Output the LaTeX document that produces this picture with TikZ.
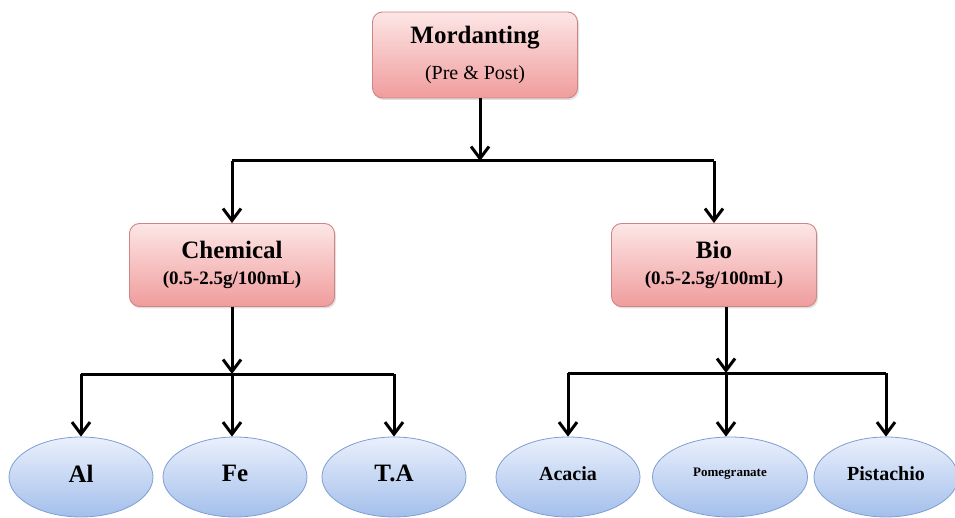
\documentclass[tikz,border=0pt]{standalone}
\usepackage{fontspec}
\setmainfont{Liberation Serif}
\usetikzlibrary{arrows.meta,shapes.geometric,shadows}
\definecolor{boxtop}{HTML}{FDE6E6}
\definecolor{boxbot}{HTML}{F09C9C}
\definecolor{boxline}{HTML}{CF8585}
\definecolor{elltop}{HTML}{EAF0FC}
\definecolor{ellbot}{HTML}{A3BFEB}
\definecolor{ellline}{HTML}{7E9ED3}
\tikzset{
  pinkbox/.style={rectangle, rounded corners=10pt, draw=boxline, line width=0.9pt,
    top color=boxtop, bottom color=boxbot, minimum width=205pt, minimum height=86pt,
    align=center, inner sep=2pt, font=\fontsize{25}{30}\selectfont\bfseries,
    drop shadow={shadow xshift=1.5pt, shadow yshift=-2pt, opacity=0.25}},
  leaf/.style={ellipse, draw=ellline, line width=0.8pt, top color=elltop,
    bottom color=ellbot, minimum width=144pt, minimum height=80pt, inner sep=0pt,
    font=\fontsize{25}{28}\selectfont\bfseries},
  conn/.style={line width=3pt, -{Straight Barb[length=12pt,width=18pt,line width=3pt]}},
  bar/.style={line width=3pt}
}
\begin{document}
\begin{tikzpicture}[x=1pt,y=-1pt]
  \useasboundingbox (0,0) rectangle (955,518);
  % top level
  \node[pinkbox] (mord) at (475,55)
    {Mordanting\\[6pt]{\fontsize{20}{24}\selectfont\mdseries (Pre \& Post)}};
  \node[pinkbox, minimum height=83pt] (chem) at (232,265)
    {Chemical\\[-4pt]{\fontsize{19}{22}\selectfont (0.5-2.5g/100mL)}};
  \node[pinkbox, minimum height=83pt] (bio) at (714,265)
    {Bio\\[-4pt]{\fontsize{19}{22}\selectfont (0.5-2.5g/100mL)}};
  % leaves
  \node[leaf] (al) at (81,477) {\raisebox{7pt}{Al}};
  \node[leaf] (fe) at (235,477) {\raisebox{7pt}{Fe}};
  \node[leaf] (ta) at (394,477) {\raisebox{7pt}{T.A}};
  \node[leaf, font=\fontsize{20}{24}\selectfont\bfseries] (aca) at (568,477) {\raisebox{7pt}{Acacia}};
  \node[leaf, font=\fontsize{13}{16}\selectfont\bfseries, minimum width=155pt] (pom) at (730,477) {\raisebox{9pt}{Pomegranate}};
  \node[leaf, font=\fontsize{20}{24}\selectfont\bfseries] (pis) at (886,477) {\raisebox{7pt}{Pistachio}};
  % junctions
  \coordinate (j1) at (480,161);
  \coordinate (j2) at (232,374);
  \coordinate (j3) at (726,373);
  % connectors
  \draw[conn] (mord.south -| j1) -- (j1);
  \draw[bar] (chem.north |- j1) -- (bio.north |- j1);
  \draw[conn] (chem.north |- j1) -- (chem.north);
  \draw[conn] (bio.north |- j1) -- (bio.north);
  \draw[conn] (chem.south) -- (j2);
  \draw[bar] (al.north |- j2) -- (ta.north |- j2);
  \draw[conn] (al.north |- j2) -- (al.north);
  \draw[conn] (j2) -- (j2 |- fe.north);
  \draw[conn] (ta.north |- j2) -- (ta.north);
  \draw[conn] (bio.south -| j3) -- (j3);
  \draw[bar] (aca.north |- j3) -- (pis.north |- j3);
  \draw[conn] (aca.north |- j3) -- (aca.north);
  \draw[conn] (j3) -- (j3 |- pom.north);
  \draw[conn] (pis.north |- j3) -- (pis.north);
\end{tikzpicture}
\end{document}
